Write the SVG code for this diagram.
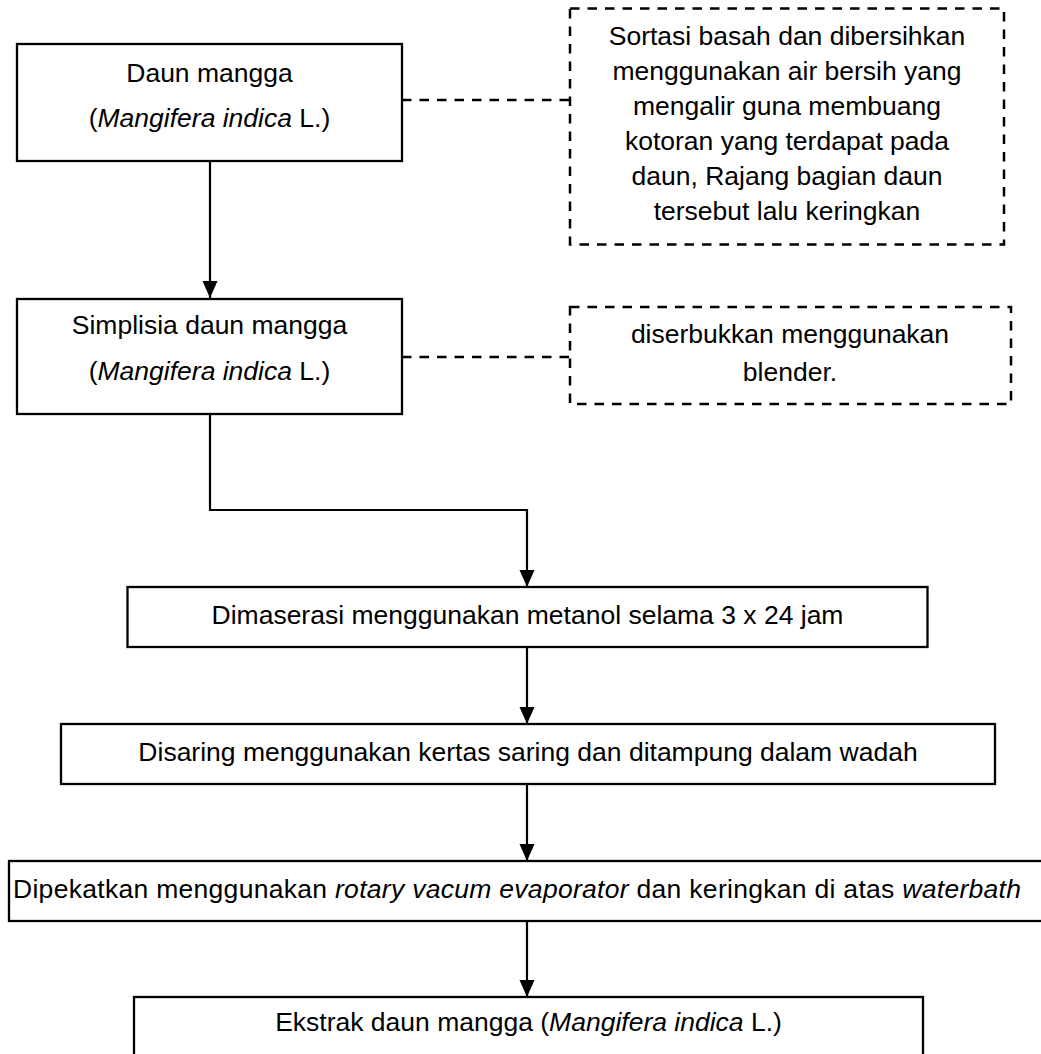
<svg xmlns="http://www.w3.org/2000/svg" width="1041" height="1054" viewBox="0 0 1041 1054">
<defs>
<style>
.box{fill:#fff;stroke:#000;stroke-width:2.3}
.dbox{fill:#fff;stroke:#000;stroke-width:2.5;stroke-dasharray:9.5 8}
.dline{fill:none;stroke:#000;stroke-width:2.5;stroke-dasharray:9.5 8}
.conn{fill:none;stroke:#000;stroke-width:2.2}
text{font-family:"Liberation Sans",Arial,sans-serif;font-size:26.5px;fill:#000;text-anchor:middle}
.i{font-style:italic}
</style>
<marker id="arr" markerUnits="userSpaceOnUse" markerWidth="18" markerHeight="18" viewBox="0 0 18 18" refX="17" refY="9" orient="auto">
<path d="M0,1.5 L17,9 L0,16.5 Z" fill="#000"/>
</marker>
</defs>
<rect width="1041" height="1054" fill="#fff"/>
<g id="connectors">
<line class="conn" x1="210" y1="161" x2="210" y2="298" marker-end="url(#arr)"/>
<polyline class="conn" points="210,414 210,510 527,510 527,587" marker-end="url(#arr)"/>
<line class="conn" x1="527" y1="647" x2="527" y2="724" marker-end="url(#arr)"/>
<line class="conn" x1="527" y1="784" x2="527" y2="861" marker-end="url(#arr)"/>
<line class="conn" x1="527" y1="921" x2="527" y2="997" marker-end="url(#arr)"/>
<line class="dline" x1="402" y1="100" x2="570" y2="100"/>
<line class="dline" x1="402" y1="357" x2="570" y2="357"/>
</g>
<g id="node-daun">
<rect class="box" x="17" y="44" width="385" height="117"/>
<text x="209.5" y="82">Daun mangga</text>
<text x="209.5" y="127">(<tspan class="i">Mangifera indica</tspan> L.)</text>
</g>
<g id="note-sortasi">
<rect class="dbox" x="570" y="8.5" width="434" height="236"/>
<text x="787" y="45">Sortasi basah dan dibersihkan</text>
<text x="787" y="80">menggunakan air bersih yang</text>
<text x="787" y="115">mengalir guna membuang</text>
<text x="787" y="150">kotoran yang terdapat pada</text>
<text x="787" y="185">daun, Rajang bagian daun</text>
<text x="787" y="220">tersebut lalu keringkan</text>
</g>
<g id="node-simplisia">
<rect class="box" x="17" y="299" width="385" height="115"/>
<text x="209.5" y="334">Simplisia daun mangga</text>
<text x="209.5" y="380">(<tspan class="i">Mangifera indica</tspan> L.)</text>
</g>
<g id="note-serbuk">
<rect class="dbox" x="570" y="307" width="441" height="97"/>
<text x="790" y="343">diserbukkan menggunakan</text>
<text x="790" y="381">blender.</text>
</g>
<g id="node-maserasi">
<rect class="box" x="127.5" y="587" width="800" height="60"/>
<text x="527.5" y="624">Dimaserasi menggunakan metanol selama 3 x 24 jam</text>
</g>
<g id="node-saring">
<rect class="box" x="61" y="724" width="934" height="60"/>
<text x="528" y="761">Disaring menggunakan kertas saring dan ditampung dalam wadah</text>
</g>
<g id="node-pekat">
<rect class="box" x="9" y="861" width="1045" height="60"/>
<text x="517" y="898" textLength="1008" lengthAdjust="spacing">Dipekatkan menggunakan <tspan class="i">rotary vacum evaporator</tspan> dan keringkan di atas <tspan class="i">waterbath</tspan></text>
</g>
<g id="node-ekstrak">
<rect class="box" x="134" y="997" width="789" height="70"/>
<text x="528.5" y="1031">Ekstrak daun mangga (<tspan class="i">Mangifera indica</tspan> L.)</text>
</g>
</svg>
